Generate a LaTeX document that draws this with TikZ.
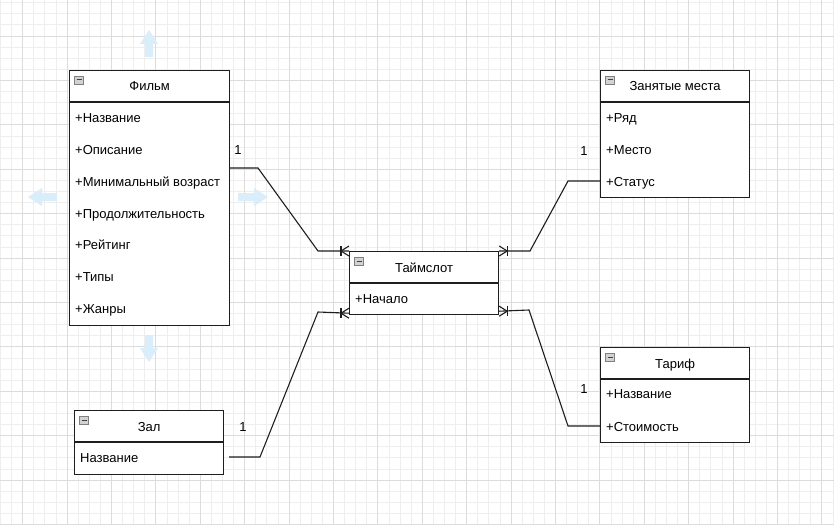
\documentclass[tikz,border=0pt]{standalone}
\usepackage{fontspec}
\setmainfont{Liberation Sans}
\usetikzlibrary{calc}

\definecolor{gridminor}{HTML}{EEEEEE}
\definecolor{gridmajor}{HTML}{DCDCDC}
\definecolor{hover}{HTML}{D9EDFB}
\definecolor{iconfill}{HTML}{D2D2D2}
\definecolor{iconline}{HTML}{808080}
\definecolor{inkline}{HTML}{1E1E1E}

\tikzset{
  txt/.style={font=\fontsize{13}{15}\selectfont, text=black, inner sep=0pt},
  classbox/.style={draw=inkline, line width=1.2pt, fill=white, anchor=north west, inner sep=0pt},
  sepline/.style={draw=inkline, line width=1.1pt},
  title/.style={txt, anchor=base},
  attr/.style={txt, anchor=base west},
  mult/.style={txt, anchor=base},
  conn/.style={draw=inkline, line width=1.1pt},
  icon/.style={draw=iconline, fill=iconfill, line width=0.6pt, minimum width=9pt, minimum height=8pt, inner sep=0pt,
    path picture={\draw[black!75, line width=1pt] ($(path picture bounding box.west)+(2,0)$) -- ($(path picture bounding box.east)+(-2,0)$);}},
  hoverarrow/.style={fill=hover, draw=none},
  manyend/.pic={
    \draw[conn] (0,-5) -- (-8,0) -- (0,5);
    \draw[conn] (-8,-5) -- (-8,5);
  }
}

\begin{document}
\begin{tikzpicture}[x=1pt, y=-1pt]
\useasboundingbox (0,0) rectangle (834,524);
\fill[white] (0,0) rectangle (834,524);

% background grid
\foreach \i in {0,...,75} \draw[gridminor, line width=0.8pt] ({0.4+\i*11.1},0) -- ({0.4+\i*11.1},524);
\foreach \j in {0,...,47} \draw[gridminor, line width=0.8pt] (0,{2.7+\j*11.1}) -- (834,{2.7+\j*11.1});
\foreach \i in {2,6,...,74} \draw[gridmajor, line width=0.8pt] ({0.4+\i*11.1},0) -- ({0.4+\i*11.1},524);
\foreach \j in {3,7,...,47} \draw[gridmajor, line width=0.8pt] (0,{2.7+\j*11.1}) -- (834,{2.7+\j*11.1});

% hover arrows around the selected class
\fill[hoverarrow] (149,30) -- (158,44) -- (153,44) -- (153,57) -- (145,57) -- (145,44) -- (140,44) -- cycle;
\fill[hoverarrow] (149,362) -- (158,348) -- (153,348) -- (153,335) -- (145,335) -- (145,348) -- (140,348) -- cycle;
\fill[hoverarrow] (28,197) -- (42,188) -- (42,193) -- (57,193) -- (57,201) -- (42,201) -- (42,206) -- cycle;
\fill[hoverarrow] (268,197) -- (254,188) -- (254,193) -- (238,193) -- (238,201) -- (254,201) -- (254,206) -- cycle;

% ---------- class: Фильм ----------
\node[classbox, minimum width=160pt, minimum height=255pt] (film) at (69,70) {};
\draw[sepline] ($(film.north west)+(0,32)$) -- ($(film.north east)+(0,32)$);
\node[icon] (film-i) at ($(film.north west)+(10,10)$) {};
\node[title] (film-t) at ($(film.north)+(0,21)$) {Фильм};
\node[attr] (film-a1) at ($(film.north west)+(6,52)$) {+Название};
\node[attr] (film-a2) at ($(film.north west)+(6,84)$) {+Описание};
\node[attr] (film-a3) at ($(film.north west)+(6,116)$) {+Минимальный возраст};
\node[attr] (film-a4) at ($(film.north west)+(6,148)$) {+Продолжительность};
\node[attr] (film-a5) at ($(film.north west)+(6,179)$) {+Рейтинг};
\node[attr] (film-a6) at ($(film.north west)+(6,211)$) {+Типы};
\node[attr] (film-a7) at ($(film.north west)+(6,243)$) {+Жанры};

% ---------- class: Занятые места ----------
\node[classbox, minimum width=149pt, minimum height=127pt] (seats) at (600,70) {};
\draw[sepline] ($(seats.north west)+(0,32)$) -- ($(seats.north east)+(0,32)$);
\node[icon] (seats-i) at ($(seats.north west)+(10,10)$) {};
\node[title] (seats-t) at ($(seats.north)+(0,21)$) {Занятые места};
\node[attr] (seats-a1) at ($(seats.north west)+(6,52)$) {+Ряд};
\node[attr] (seats-a2) at ($(seats.north west)+(6,84)$) {+Место};
\node[attr] (seats-a3) at ($(seats.north west)+(6,116)$) {+Статус};

% ---------- class: Таймслот ----------
\node[classbox, minimum width=149pt, minimum height=63pt] (slot) at (349,251) {};
\draw[sepline] ($(slot.north west)+(0,32)$) -- ($(slot.north east)+(0,32)$);
\node[icon] (slot-i) at ($(slot.north west)+(10,10)$) {};
\node[title] (slot-t) at ($(slot.north)+(0,21)$) {Таймслот};
\node[attr] (slot-a1) at ($(slot.north west)+(6,52)$) {+Начало};

% ---------- class: Тариф ----------
\node[classbox, minimum width=149pt, minimum height=95pt] (tariff) at (600,347) {};
\draw[sepline] ($(tariff.north west)+(0,32)$) -- ($(tariff.north east)+(0,32)$);
\node[icon] (tariff-i) at ($(tariff.north west)+(10,10)$) {};
\node[title] (tariff-t) at ($(tariff.north)+(0,21)$) {Тариф};
\node[attr] (tariff-a1) at ($(tariff.north west)+(6,51)$) {+Название};
\node[attr] (tariff-a2) at ($(tariff.north west)+(6,84)$) {+Стоимость};

% ---------- class: Зал ----------
\node[classbox, minimum width=149pt, minimum height=64pt] (hall) at (74,410) {};
\draw[sepline] ($(hall.north west)+(0,32)$) -- ($(hall.north east)+(0,32)$);
\node[icon] (hall-i) at ($(hall.north west)+(10,10)$) {};
\node[title] (hall-t) at ($(hall.north)+(0,21)$) {Зал};
\node[attr] (hall-a1) at ($(hall.north west)+(6,52)$) {Название};

% ---------- relations ----------
\coordinate (film-out) at ($(film.north east)+(0,98)$);
\draw[conn] (film-out) -- (258,168) -- (318,251) -- (slot.north west);
\pic at (slot.north west) {manyend};
\node[mult] (m-film) at (238,154) {1};

\coordinate (seats-in) at ($(seats.north west)+(0,111)$);
\draw[conn] (slot.north east) -- (530,251) -- (568,181) -- (seats-in);
\pic[xscale=-1] at (slot.north east) {manyend};
\node[mult] (m-seats) at (584,155) {1};

\coordinate (hall-out) at ($(hall.north east)+(5,47)$);
\coordinate (slot-in-hall) at ($(slot.south west)+(0,-2)$);
\draw[conn] (hall-out) -- (260,457) -- (318,312) -- (slot-in-hall);
\pic at (slot-in-hall) {manyend};
\node[mult] (m-hall) at (243,431) {1};

\coordinate (slot-out-tariff) at ($(slot.south east)+(0,-4)$);
\coordinate (tariff-in) at ($(tariff.north west)+(0,79)$);
\draw[conn] (slot-out-tariff) -- (529,310) -- (568,426) -- (tariff-in);
\pic[xscale=-1] at (slot-out-tariff) {manyend};
\node[mult] (m-tariff) at (584,393) {1};

\end{tikzpicture}
\end{document}
